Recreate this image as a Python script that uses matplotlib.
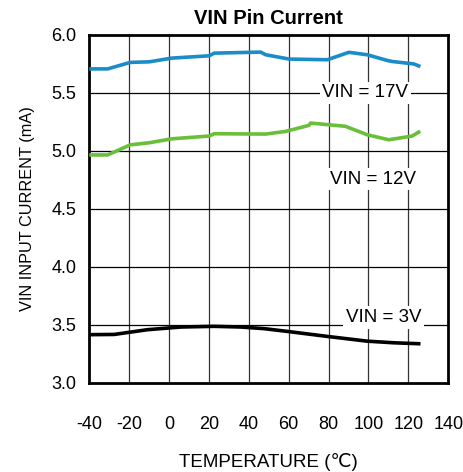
import matplotlib
matplotlib.use('Agg')
import matplotlib.pyplot as plt

plt.rcParams['font.family'] = ['Liberation Sans', 'DejaVu Sans']
plt.rcParams['axes.unicode_minus'] = False

# 曲线数据
temp_17v = [-39, -30.7, -19.4, -9.9, 1.4, 20.2, 22.7, 46, 48.5, 60.2, 79.4, 90.2, 99.4, 109.4, 111.9, 122.7, 125.2]
cur_17v = [5.707, 5.707, 5.763, 5.768, 5.800, 5.820, 5.843, 5.852, 5.829, 5.792, 5.786, 5.850, 5.829, 5.780, 5.771, 5.750, 5.733]

temp_12v = [-39, -30.7, -19.4, -9.9, 1.4, 20.2, 22.7, 48.5, 58.5, 70.2, 71, 88.5, 99.4, 110.2, 121.9, 125.2]
cur_12v = [4.965, 4.965, 5.052, 5.070, 5.104, 5.128, 5.148, 5.145, 5.168, 5.220, 5.240, 5.212, 5.139, 5.096, 5.128, 5.162]

temp_3v = [-39.9, -27.4, -10.7, 6, 22.7, 36, 47.7, 59.4, 79.4, 99.4, 112.7, 125.2]
cur_3v = [3.415, 3.417, 3.458, 3.481, 3.487, 3.481, 3.467, 3.443, 3.400, 3.359, 3.345, 3.337]

x_ticks = [-40, -20, 0, 20, 40, 60, 80, 100, 120, 140]
y_ticks = [3.0, 3.5, 4.0, 4.5, 5.0, 5.5, 6.0]

# 标签位置 (温度, 电流)
labels = [('VIN = 17V', 98.5, 5.5), ('VIN = 12V', 102.5, 4.757), ('VIN = 3V', 107.5, 3.565)]

fig = plt.figure(figsize=(4.64, 4.72), dpi=100)
ax = fig.add_axes([0.192, 0.189, 0.774, 0.737])

# 网格
for t in x_ticks[1:-1]:
    ax.axvline(t, color='#333333', lw=0.9, zorder=1)
for v in y_ticks[1:-1]:
    ax.axhline(v, color='black', lw=0.9, zorder=1)

ax.plot(temp_17v, cur_17v, color='#1a8cc8', lw=2.6, zorder=3)
ax.plot(temp_12v, cur_12v, color='#6abf3a', lw=2.6, zorder=3)
ax.plot(temp_3v, cur_3v, color='black', lw=2.6, zorder=3)

for txt, x, y in labels:
    ax.text(x, y, txt, ha='center', va='center', fontsize=13.5, zorder=2,
            bbox=dict(facecolor='white', edgecolor='none', pad=2))

ax.set_xlim(-40, 140)
ax.set_ylim(3.0, 6.0)
ax.set_xticks(x_ticks)
ax.set_yticks(y_ticks)
ax.set_yticklabels([f'{v:.1f}' for v in y_ticks])
ax.tick_params(axis='both', length=0, labelsize=13)
ax.tick_params(axis='x', pad=24)
ax.tick_params(axis='y', pad=9)
for s in ax.spines.values():
    s.set_linewidth(2)

ax.set_title('VIN Pin Current', fontsize=14.5, fontweight='bold', pad=8)
ax.set_xlabel('TEMPERATURE (℃)', fontsize=13.5, labelpad=14)
ax.set_ylabel('VIN INPUT CURRENT (mA)', fontsize=11.7, labelpad=12)

fig.savefig('out.png', dpi=100)
